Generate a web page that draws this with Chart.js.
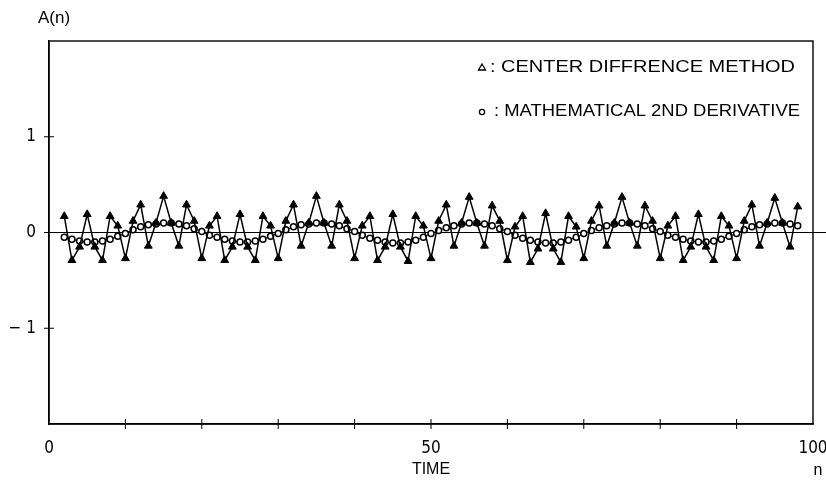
<!DOCTYPE html>
<html>
<head>
<meta charset="utf-8">
<script src="https://cdn.jsdelivr.net/npm/chart.js@4"></script>
<style>
  html, body { margin: 0; padding: 0; background: #fff; }
  #wrap { width: 826px; height: 485px; }
</style>
</head>
<body>
<div id="wrap"><canvas id="myChart" width="826" height="485"></canvas></div>
<script>
// Dados do gráfico
const timeSteps = [
    2, 3, 4, 5, 6, 7, 8, 9, 10, 11,
    12, 13, 14, 15, 16, 17, 18, 19, 20, 21,
    22, 23, 24, 25, 26, 27, 28, 29, 30, 31,
    32, 33, 34, 35, 36, 37, 38, 39, 40, 41,
    42, 43, 44, 45, 46, 47, 48, 49, 50, 51,
    52, 53, 54, 55, 56, 57, 58, 59, 60, 61,
    62, 63, 64, 65, 66, 67, 68, 69, 70, 71,
    72, 73, 74, 75, 76, 77, 78, 79, 80, 81,
    82, 83, 84, 85, 86, 87, 88, 89, 90, 91,
    92, 93, 94, 95, 96, 97, 98
];

// triângulos: center difference method
const centerDiff = [
    0.17, -0.29, -0.15, 0.19, -0.15, -0.29, 0.17, 0.07, -0.27, 0.12,
    0.29, -0.14, 0.10, 0.38, 0.10, -0.14, 0.29, 0.12, -0.27, 0.07,
    0.17, -0.29, -0.15, 0.19, -0.15, -0.29, 0.17, 0.07, -0.27, 0.12,
    0.29, -0.14, 0.10, 0.38, 0.10, -0.14, 0.29, 0.12, -0.27, 0.07,
    0.17, -0.29, -0.15, 0.19, -0.15, -0.30, 0.17, 0.07, -0.27, 0.12,
    0.29, -0.14, 0.10, 0.37, 0.10, -0.14, 0.28, 0.12, -0.29, 0.06,
    0.17, -0.31, -0.17, 0.20, -0.17, -0.31, 0.17, 0.06, -0.27, 0.12,
    0.28, -0.14, 0.10, 0.37, 0.10, -0.14, 0.28, 0.12, -0.27, 0.07,
    0.17, -0.29, -0.15, 0.19, -0.15, -0.29, 0.17, 0.07, -0.27, 0.12,
    0.29, -0.14, 0.10, 0.36, 0.10, -0.15, 0.27
];

// círculos: mathematical 2nd derivative
const mathDeriv = [
    -0.05, -0.07, -0.09, -0.10, -0.10, -0.09, -0.07, -0.04, -0.01, 0.03,
    0.06, 0.08, 0.09, 0.10, 0.10, 0.09, 0.07, 0.04, 0.01, -0.03,
    -0.05, -0.07, -0.09, -0.10, -0.10, -0.09, -0.07, -0.04, -0.01, 0.03,
    0.06, 0.08, 0.09, 0.10, 0.10, 0.09, 0.07, 0.04, 0.01, -0.03,
    -0.06, -0.08, -0.10, -0.11, -0.11, -0.10, -0.08, -0.05, -0.01, 0.02,
    0.05, 0.07, 0.09, 0.10, 0.10, 0.09, 0.07, 0.04, 0.01, -0.03,
    -0.06, -0.08, -0.10, -0.11, -0.11, -0.10, -0.08, -0.05, -0.01, 0.02,
    0.05, 0.07, 0.09, 0.10, 0.10, 0.09, 0.07, 0.04, 0.01, -0.03,
    -0.05, -0.07, -0.09, -0.10, -0.10, -0.09, -0.07, -0.04, -0.01, 0.03,
    0.06, 0.08, 0.09, 0.10, 0.10, 0.09, 0.07
];

const xTickLabels = [0, 50, 100];
const yTickValues = [-1, 0, 1];
const yTickLabels = ['− 1', '0', '1'];

const seriesNames = ['CENTER DIFFRENCE METHOD', 'MATHEMATICAL 2ND DERIVATIVE'];

const tickFont = { family: "'DejaVu Sans Condensed', 'Liberation Sans Narrow', sans-serif", size: 17 };
const textFont = "'Liberation Sans', Arial, sans-serif";

function toPoints(ys) {
    return timeSteps.map((t, i) => ({ x: t, y: ys[i] }));
}

// moldura, marcas dos eixos, textos e legenda
const framePlugin = {
    id: 'frame',
    afterDraw(chart) {
        const { ctx, chartArea: a, scales } = chart;
        ctx.save();
        ctx.strokeStyle = '#000';
        ctx.fillStyle = '#000';
        ctx.lineWidth = 1.4;
        ctx.strokeRect(a.left, a.top, a.right - a.left, a.bottom - a.top);

        // marcas cruzando os eixos
        ctx.lineWidth = 1;
        for (let v = 10; v < 100; v += 10) {
            const px = scales.x.getPixelForValue(v);
            ctx.beginPath();
            ctx.moveTo(px, a.bottom - 5);
            ctx.lineTo(px, a.bottom + 5);
            ctx.stroke();
        }
        yTickValues.forEach(v => {
            const py = scales.y.getPixelForValue(v);
            ctx.beginPath();
            ctx.moveTo(a.left - 5, py);
            ctx.lineTo(a.left + 5, py);
            ctx.stroke();
        });
        // linha zero passa da borda direita
        const y0 = scales.y.getPixelForValue(0);
        ctx.beginPath();
        ctx.moveTo(a.right, y0);
        ctx.lineTo(chart.width, y0);
        ctx.stroke();

        // textos
        ctx.textBaseline = 'middle';
        ctx.textAlign = 'left';
        ctx.font = '17px ' + textFont;
        ctx.fillText('A(n)', 38, 18);
        ctx.textAlign = 'center';
        ctx.font = '16px ' + textFont;
        ctx.fillText('TIME', (a.left + a.right) / 2, 470);
        ctx.fillText('n', 818, 471);

        // legenda
        const rows = [
            { y: 68, tx: 490, w: 305, style: 'triangle' },
            { y: 112, tx: 494, w: 306, style: 'circle' }
        ];
        ctx.textAlign = 'left';
        ctx.font = '16px ' + textFont;
        rows.forEach((r, i) => {
            const mx = 482;
            ctx.lineWidth = 1.3;
            ctx.beginPath();
            if (r.style === 'triangle') {
                ctx.moveTo(mx, r.y - 4);
                ctx.lineTo(mx + 3.5, r.y + 2);
                ctx.lineTo(mx - 3.5, r.y + 2);
                ctx.closePath();
            } else {
                ctx.arc(mx, r.y, 2.6, 0, Math.PI * 2);
            }
            ctx.stroke();
            const label = ': ' + chart.data.datasets[i].label;
            const w = ctx.measureText(label).width;
            ctx.save();
            ctx.translate(r.tx, r.y);
            ctx.scale(r.w / w, 1);
            ctx.fillText(label, 0, 0);
            ctx.restore();
        });
        ctx.restore();
    }
};

const data = {
    datasets: [{
        label: seriesNames[0],
        data: toPoints(centerDiff),
        borderColor: '#000',
        backgroundColor: '#000',
        borderWidth: 1.5,
        pointStyle: 'triangle',
        pointRadius: 4.5,
        pointBorderWidth: 1,
        tension: 0
    }, {
        label: seriesNames[1],
        data: toPoints(mathDeriv),
        borderColor: '#000',
        backgroundColor: '#fff',
        borderWidth: 1,
        pointStyle: 'circle',
        pointRadius: 3,
        pointBorderWidth: 1.5,
        tension: 0
    }]
};

const options = {
    responsive: false,
    animation: false,
    layout: { padding: { top: 41, right: 13, left: 0, bottom: 0 } },
    plugins: {
        legend: { display: false },
        tooltip: { enabled: false }
    },
    scales: {
        x: {
            type: 'linear',
            min: 0,
            max: 100,
            border: { display: true, color: '#000', width: 1.4 },
            grid: { display: false, drawTicks: false },
            ticks: {
                stepSize: 10,
                autoSkip: false,
                maxRotation: 0,
                padding: 14,
                color: '#000',
                font: tickFont,
                callback: v => xTickLabels.includes(v) ? String(v) : ''
            },
            afterFit: s => { s.height = 61; s.paddingLeft = 0; s.paddingRight = 0; }
        },
        y: {
            min: -2,
            max: 2,
            border: { display: true, color: '#000', width: 1.4 },
            grid: {
                drawTicks: false,
                lineWidth: 1,
                color: c => (c.tick && c.tick.value === 0) ? '#000' : 'rgba(0,0,0,0)'
            },
            ticks: {
                stepSize: 1,
                padding: 13,
                color: '#000',
                font: tickFont,
                callback: v => {
                    const k = yTickValues.indexOf(v);
                    return k >= 0 ? yTickLabels[k] : '';
                }
            },
            afterFit: s => { s.width = 49; s.paddingTop = 0; s.paddingBottom = 0; }
        }
    }
};

const ctx = document.getElementById('myChart').getContext('2d');
const myChart = new Chart(ctx, {
    type: 'line',
    data: data,
    options: options,
    plugins: [framePlugin]
});
</script>
</body>
</html>
